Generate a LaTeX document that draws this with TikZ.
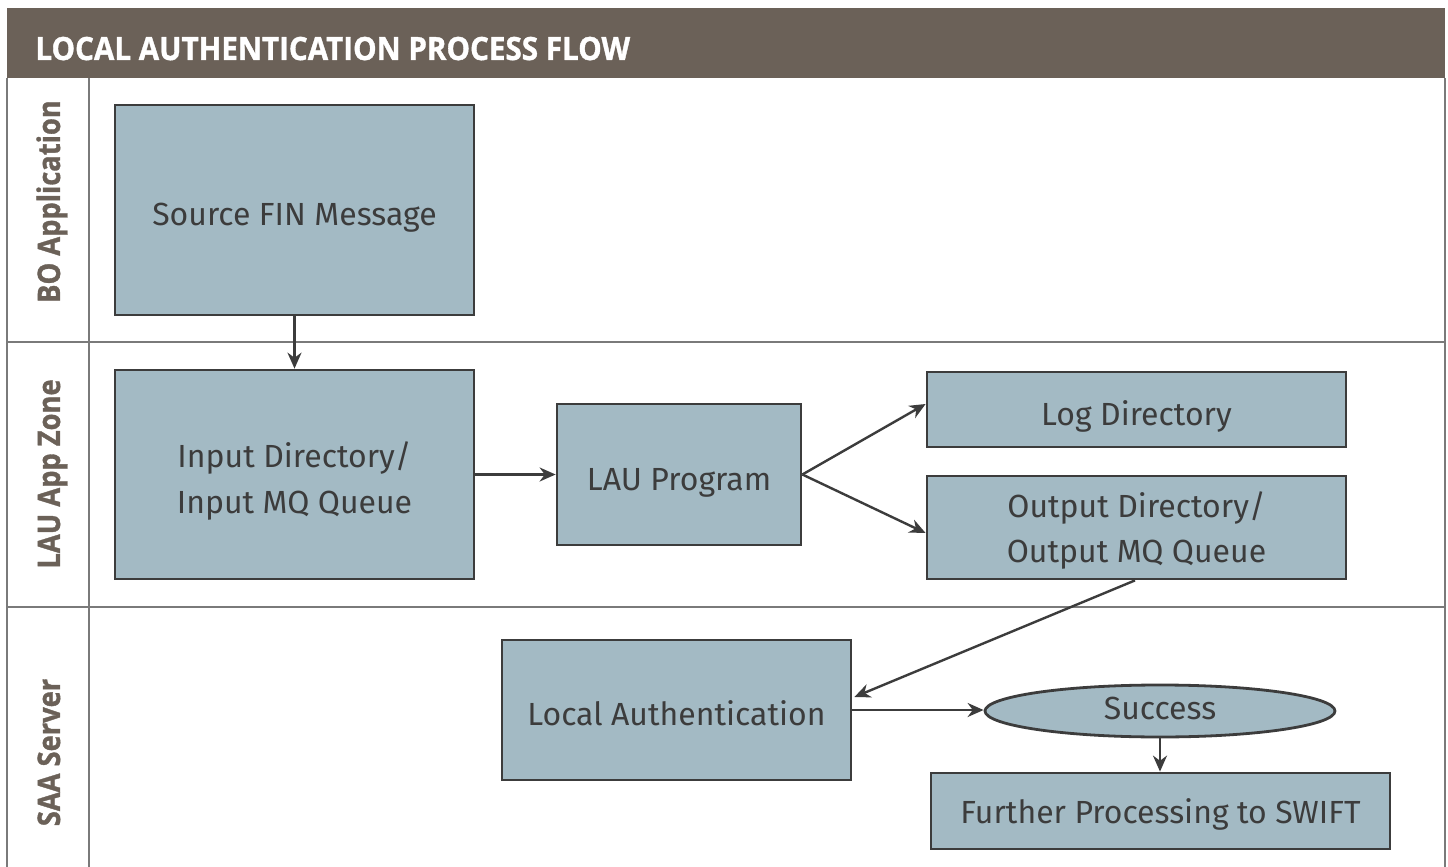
\documentclass[tikz,border=0pt]{standalone}
\usepackage{fontspec}
\setmainfont{Fira Sans}
\newfontfamily\labelfont{Open Sans}[BoldFeatures={FakeBold=1.2}]
\usetikzlibrary{arrows.meta,shapes.geometric,calc}
\definecolor{hdr}{HTML}{6B6158}
\definecolor{boxfill}{HTML}{A3BAC4}
\definecolor{ink}{HTML}{3C3C3C}
\definecolor{lane}{HTML}{7A7A7A}
\begin{document}
\begin{tikzpicture}[x=0.5pt,y=-0.5pt,
  box/.style={draw=ink,line width=1.4pt,fill=boxfill,inner sep=0pt},
  oval/.style={ellipse,draw=ink,line width=1.4pt,fill=boxfill,inner sep=0pt},
  boxtext/.style={anchor=base,inner sep=0pt,text=ink,font=\fontsize{16}{19}\selectfont},
  flow/.style={draw=ink,line width=1.2pt,-{Stealth[length=8pt,width=7pt]}},
  lanelabel/.style={rotate=90,anchor=base,inner sep=0pt,text=hdr,font=\labelfont\bfseries\fontsize{15.5}{16}\selectfont},
  laneline/.style={draw=lane,line width=0.8pt}]
\useasboundingbox (0,0) rectangle (1448,867);
\fill[white] (0,0) rectangle (1448,867);
% header
\fill[hdr] (7,8) rectangle (1445,78);
\node[anchor=base west,inner sep=0pt,text=white,font=\labelfont\bfseries\fontsize{16}{18}\selectfont] (title) at (35,60) {\scalebox{0.925}[1]{LOCAL AUTHENTICATION PROCESS FLOW}};
% lanes
\draw[laneline] (7,78) -- (7,867);
\draw[laneline] (1445,78) -- (1445,867);
\draw[laneline] (89,78) -- (89,867);
\draw[laneline] (7,342) -- (1445,342);
\draw[laneline] (7,607) -- (1445,607);
\node[lanelabel] (l1) at (60,201.5) {\scalebox{0.88}[1]{BO Application}};
\node[lanelabel] (l2) at (60,474) {\scalebox{0.88}[1]{LAU App Zone}};
\node[lanelabel] (l3) at (60,752.5) {\scalebox{0.88}[1]{SAA Server}};
% boxes
\node[box,minimum width=179.5pt,minimum height=105pt] (src) at (294.5,210) {};
\node[box,minimum width=179.5pt,minimum height=104.5pt] (inp) at (294.5,474.5) {};
\node[box,minimum width=122pt,minimum height=70.5pt] (lau) at (679,474.5) {};
\node[box,minimum width=209.5pt,minimum height=37.5pt] (log) at (1136.5,409.5) {};
\node[box,minimum width=209.5pt,minimum height=51.5pt] (out) at (1136.5,527.5) {};
\node[box,minimum width=174.5pt,minimum height=70pt] (la) at (676.5,710) {};
\node[oval,minimum width=175pt,minimum height=26pt] (suc) at (1160,711) {};
\node[box,minimum width=229.5pt,minimum height=38pt] (fur) at (1160.5,811) {};
% texts
\node[boxtext] (srct) at (294.5,225) {Source FIN Message};
\node[boxtext] (inpt1) at (294.5,467) {Input Directory/};
\node[boxtext] (inpt2) at (294.5,513) {Input MQ Queue};
\node[boxtext] (laut) at (679,490) {LAU Program};
\node[boxtext] (logt) at (1136.5,425) {Log Directory};
\node[boxtext] (outt1) at (1136.5,517) {Output Directory/};
\node[boxtext] (outt2) at (1136.5,562) {Output MQ Queue};
\node[boxtext] (lat) at (676.5,725) {Local Authentication};
\node[boxtext] (suct) at (1160,719.5) {Success};
\node[boxtext] (furt) at (1160.5,823) {Further Processing to SWIFT};
% connectors
\draw[flow] (src.south) -- (inp.north);
\draw[flow] (inp.east) -- (lau.west);
\draw[flow] (lau.east) -- ($(log.west)+(0,-5.5)$);
\draw[flow] (lau.east) -- ($(out.west)+(0,5.5)$);
\draw[flow] ($(out.south)+(-1.5,0)$) -- ($(la.east)+(2,-13)$);
\draw[flow] (la.east) -- (la.east -| suc.west);
\draw[flow] (suc.south) -- (suc.south |- fur.north);
\end{tikzpicture}
\end{document}
